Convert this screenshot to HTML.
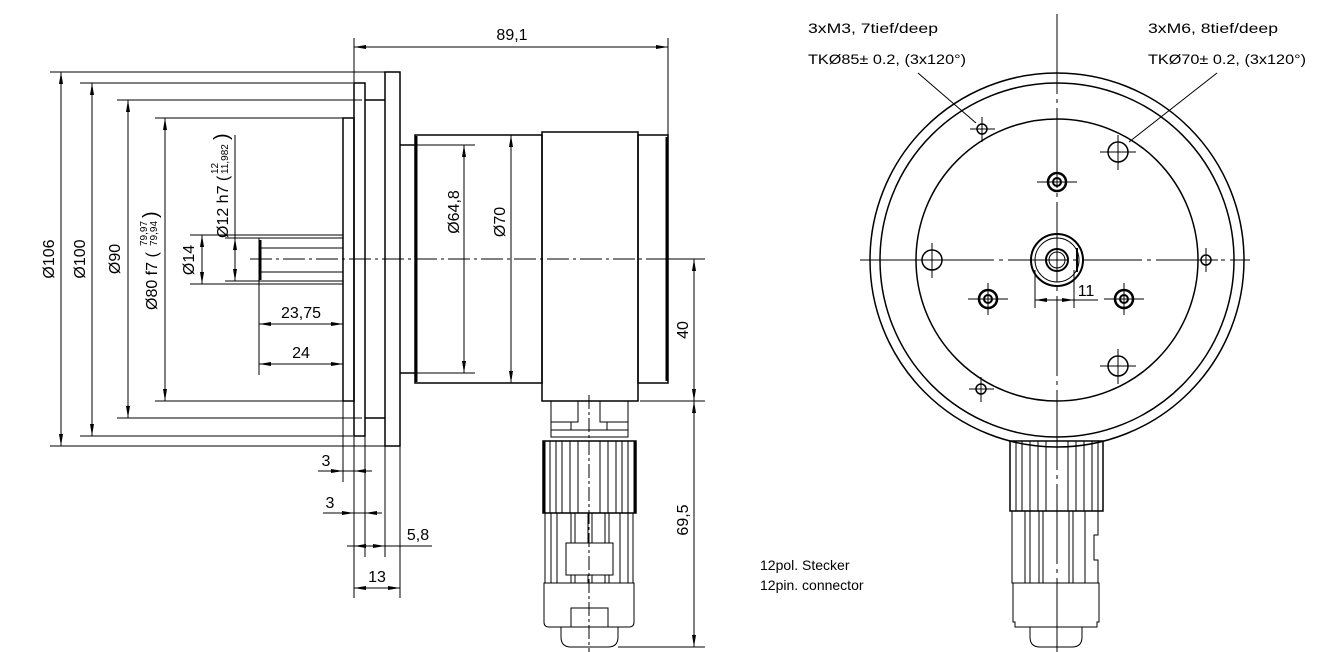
<!DOCTYPE html>
<html><head><meta charset="utf-8"><style>
html,body{margin:0;padding:0;background:#fff;}
svg{display:block;}
text{font-family:"Liberation Sans","DejaVu Sans",sans-serif;font-size:16px;fill:#000;}
.s{font-size:14px;}
.f{font-size:10px;}
</style></head><body>
<svg width="1339" height="652" viewBox="0 0 1339 652" xmlns="http://www.w3.org/2000/svg">
<defs>
<marker id="a" viewBox="0 0 12 4" refX="12" refY="2" markerWidth="12" markerHeight="4" orient="auto-start-reverse" markerUnits="userSpaceOnUse"><path d="M0,0 L12,2 L0,4 z" fill="#000"/></marker>
</defs>
<g stroke="#000" fill="none" stroke-width="1">
<line x1="50" y1="72" x2="392" y2="72"/><line x1="50" y1="446" x2="392" y2="446"/>
<line x1="80" y1="83" x2="353" y2="83"/><line x1="80" y1="436" x2="353" y2="436"/>
<line x1="117" y1="100" x2="362" y2="100"/><line x1="117" y1="418" x2="362" y2="418"/>
<line x1="155" y1="118" x2="343" y2="118"/><line x1="155" y1="401" x2="343" y2="401"/>
<line x1="190" y1="235" x2="343" y2="235"/><line x1="190" y1="284" x2="343" y2="284"/>
<line x1="225" y1="238" x2="259" y2="238"/><line x1="225" y1="281" x2="259" y2="281"/>
<line x1="61" y1="72" x2="61" y2="446" marker-start="url(#a)" marker-end="url(#a)"/>
<line x1="92" y1="83" x2="92" y2="436" marker-start="url(#a)" marker-end="url(#a)"/>
<line x1="128" y1="100" x2="128" y2="418" marker-start="url(#a)" marker-end="url(#a)"/>
<line x1="165" y1="118" x2="165" y2="401" marker-start="url(#a)" marker-end="url(#a)"/>
<line x1="202" y1="235" x2="202" y2="284" marker-start="url(#a)" marker-end="url(#a)"/>
<line x1="235" y1="135" x2="235" y2="238"/>
<line x1="235" y1="238" x2="235" y2="281" marker-start="url(#a)" marker-end="url(#a)"/>
<rect x="259" y="238" width="84" height="43"/>
<line x1="259" y1="248" x2="343" y2="248"/><line x1="259" y1="272" x2="343" y2="272"/>
<line x1="260" y1="240" x2="260" y2="280" stroke-width="3"/>
<line x1="259" y1="281" x2="259" y2="375"/>
<line x1="259" y1="324" x2="343" y2="324" marker-start="url(#a)" marker-end="url(#a)"/>
<line x1="259" y1="364" x2="343" y2="364" marker-start="url(#a)" marker-end="url(#a)"/>
<rect x="343" y="118" width="11" height="283" stroke-width="1.5"/>
<rect x="354" y="83" width="11" height="353" stroke-width="1.5"/>
<line x1="365" y1="100" x2="385" y2="100" stroke-width="1.5"/><line x1="365" y1="418" x2="385" y2="418" stroke-width="1.5"/>
<rect x="385" y="72" width="15" height="374" stroke-width="1.5"/>
<line x1="400" y1="145" x2="415" y2="145" stroke-width="1.5"/><line x1="400" y1="373" x2="415" y2="373" stroke-width="1.5"/>
<rect x="415" y="135" width="127" height="248" stroke-width="1.5"/>
<line x1="416" y1="136" x2="416" y2="382" stroke-width="3"/>
<rect x="542" y="132" width="96" height="269" stroke-width="1.5"/>
<rect x="638" y="135" width="30" height="248" stroke-width="1.5"/>
<line x1="667" y1="137" x2="667" y2="381" stroke-width="3"/>
<line x1="415" y1="145" x2="475" y2="145"/><line x1="415" y1="373" x2="475" y2="373"/>
<line x1="464" y1="145" x2="464" y2="373" marker-start="url(#a)" marker-end="url(#a)"/>
<line x1="511" y1="135" x2="511" y2="383" marker-start="url(#a)" marker-end="url(#a)"/>
<line x1="354" y1="38" x2="354" y2="83"/><line x1="668" y1="38" x2="668" y2="135"/>
<line x1="354" y1="47" x2="668" y2="47" marker-start="url(#a)" marker-end="url(#a)"/>
<line x1="668" y1="259" x2="705" y2="259"/>
<line x1="640" y1="401" x2="705" y2="401"/>
<line x1="618" y1="647" x2="705" y2="647"/>
<line x1="694" y1="259" x2="694" y2="401" marker-start="url(#a)" marker-end="url(#a)"/>
<line x1="694" y1="401" x2="694" y2="647" marker-start="url(#a)" marker-end="url(#a)"/>
<rect x="551" y="401" width="27" height="21"/><rect x="600" y="401" width="28" height="21"/>
<rect x="551" y="422" width="20" height="8"/><rect x="607" y="422" width="21" height="8"/>
<rect x="551" y="430" width="77" height="7"/>
<rect x="543" y="441" width="93" height="72" stroke-width="1.5"/>
<line x1="544" y1="441" x2="544" y2="513" stroke-width="3"/><line x1="635" y1="441" x2="635" y2="513" stroke-width="3"/>
<path d="M550 441V513M556 441V513M562 441V513M570 441V513M578 441V513M600 441V513M608 441V513M616 441V513M622 441V513M628 441V513"/>
<rect x="545" y="513" width="88" height="70"/>
<path d="M551 513V583M557 513V583M571 513V583M575 513V583M588 513V583M592 513V583M605 513V583M609 513V583M620 513V583M628 513V583"/>
<rect x="566" y="543" width="47" height="32" fill="#fff"/>
<path d="M544 583H634V622Q634 627 629 627H549Q544 627 544 622Z"/>
<rect x="571" y="608" width="37" height="19"/>
<path d="M561 627V637Q561 647 571 647H608Q618 647 618 637V627"/>
<line x1="343" y1="401" x2="343" y2="482"/>
<line x1="354" y1="436" x2="354" y2="598"/>
<line x1="365" y1="436" x2="365" y2="557"/>
<line x1="385" y1="446" x2="385" y2="557"/>
<line x1="400" y1="446" x2="400" y2="598"/>
<line x1="318" y1="471" x2="343" y2="471" marker-end="url(#a)"/><line x1="372" y1="471" x2="354" y2="471" marker-end="url(#a)"/><line x1="343" y1="471" x2="354" y2="471"/>
<line x1="323" y1="513" x2="354" y2="513" marker-end="url(#a)"/><line x1="382" y1="513" x2="365" y2="513" marker-end="url(#a)"/><line x1="354" y1="513" x2="365" y2="513"/>
<line x1="347" y1="546" x2="354" y2="546"/><line x1="354" y1="546" x2="385" y2="546" marker-start="url(#a)" marker-end="url(#a)"/><line x1="385" y1="546" x2="432" y2="546"/>
<line x1="354" y1="588" x2="400" y2="588" marker-start="url(#a)" marker-end="url(#a)"/>
<line x1="250" y1="259" x2="705" y2="259" stroke-dasharray="22,4,3,4"/>
<line x1="589" y1="395" x2="589" y2="652" stroke-dasharray="14,3,3,3"/>
<circle cx="1057" cy="260" r="187" stroke-width="1.5"/>
<circle cx="1057" cy="260" r="177" stroke-width="1.5"/>
<circle cx="1057" cy="260" r="141" stroke-width="1.5"/>
<line x1="860" y1="260" x2="1250" y2="260" stroke-dasharray="60,5,4,5"/>
<line x1="1057" y1="14" x2="1057" y2="652" stroke-dasharray="80,5,4,5"/>
<g stroke-width="1.5"><circle cx="982" cy="129" r="5"/><circle cx="981" cy="389" r="5"/><circle cx="1206" cy="260" r="5"/></g>
<path d="M970 129H995M982 117V142M969 389H994M981 377V402M1195 260H1218M1206 248V272"/>
<g stroke-width="1.5"><circle cx="1118" cy="152" r="10"/><circle cx="932" cy="260" r="10"/><circle cx="1118" cy="366" r="10"/></g>
<path d="M1100 152H1136M1118 135V170M914 260H950M932 243V278M1100 366H1136M1118 349V384"/>
<g stroke-width="2.5"><circle cx="1057" cy="182" r="9"/><circle cx="988" cy="299" r="9"/><circle cx="1124" cy="299" r="9"/></g>
<g stroke-width="2"><circle cx="1057" cy="182" r="4"/><circle cx="988" cy="299" r="4"/><circle cx="1124" cy="299" r="4"/></g>
<path d="M1037 182H1077M968 299H1008M988 283V315M1104 299H1144M1124 283V315"/>
<circle cx="1057" cy="260" r="26" stroke-width="2"/>
<circle cx="1057" cy="260" r="22"/>
<circle cx="1057" cy="260" r="11" stroke-width="2"/>
<circle cx="1057" cy="260" r="8"/>
<line x1="1077" y1="248" x2="1077" y2="272" stroke-width="2"/>
<line x1="1035" y1="270" x2="1035" y2="308"/><line x1="1074" y1="270" x2="1074" y2="308"/>
<line x1="1035" y1="300" x2="1074" y2="300" marker-start="url(#a)" marker-end="url(#a)"/>
<line x1="1074" y1="300" x2="1098" y2="300"/>
<line x1="918" y1="73" x2="976" y2="123"/>
<line x1="1217" y1="73" x2="1129" y2="142"/>
<rect x="1010" y="441" width="93" height="70" stroke-width="1.5"/>
<path d="M1016 441V511M1022 441V511M1030 441V511M1038 441V511M1046 441V511M1068 441V511M1076 441V511M1084 441V511M1092 441V511M1098 441V511"/>
<path d="M1012 511V583H1098V560H1094V535H1098V511"/>
<path d="M1025 511V583M1030 511V583M1039 511V583M1043 511V583M1069 511V583M1073 511V583M1085 511V583"/>
<path d="M1013 583V622H1015V627H1097V622H1099V583Z"/>
<path d="M1030 627V637Q1030 647 1040 647H1072Q1082 647 1082 637V627"/>
</g>
<text x="512" y="40" text-anchor="middle">89,1</text>
<text transform="translate(54,259) rotate(-90)" text-anchor="middle">Ø106</text>
<text transform="translate(85,259) rotate(-90)" text-anchor="middle">Ø100</text>
<text transform="translate(120,259) rotate(-90)" text-anchor="middle">Ø90</text>
<text transform="translate(157,310) rotate(-90)">Ø80 f7 (</text>
<text class="f" transform="translate(147,246) rotate(-90)">79,97</text>
<text class="f" transform="translate(157,246) rotate(-90)">79,94</text>
<text transform="translate(157,218) rotate(-90)" style="font-size:20px">)</text>
<text transform="translate(194,260) rotate(-90)" text-anchor="middle">Ø14</text>
<text transform="translate(228,238) rotate(-90)">Ø12 h7 (</text>
<text class="f" transform="translate(218,174) rotate(-90)">12</text>
<text class="f" transform="translate(228,174) rotate(-90)">11,982</text>
<text transform="translate(228,140) rotate(-90)" style="font-size:20px">)</text>
<text x="301" y="318" text-anchor="middle">23,75</text>
<text x="301" y="358" text-anchor="middle">24</text>
<text transform="translate(459,212) rotate(-90)" text-anchor="middle">Ø64,8</text>
<text transform="translate(505,222) rotate(-90)" text-anchor="middle">Ø70</text>
<text transform="translate(688,330) rotate(-90)" text-anchor="middle">40</text>
<text transform="translate(688,520) rotate(-90)" text-anchor="middle">69,5</text>
<text x="326" y="466" text-anchor="middle">3</text>
<text x="330" y="508" text-anchor="middle">3</text>
<text x="418" y="540" text-anchor="middle">5,8</text>
<text x="377" y="582" text-anchor="middle">13</text>
<text x="1086" y="296" text-anchor="middle">11</text>
<text class="s" x="808" y="33" textLength="130" lengthAdjust="spacingAndGlyphs">3xM3, 7tief/deep</text>
<text class="s" x="808" y="64" textLength="158" lengthAdjust="spacingAndGlyphs">TKØ85± 0.2, (3x120°)</text>
<text class="s" x="1148" y="33" textLength="130" lengthAdjust="spacingAndGlyphs">3xM6, 8tief/deep</text>
<text class="s" x="1148" y="64" textLength="158" lengthAdjust="spacingAndGlyphs">TKØ70± 0.2, (3x120°)</text>
<text class="s" x="760" y="570">12pol. Stecker</text>
<text class="s" x="760" y="590">12pin. connector</text>
</svg>
</body></html>
